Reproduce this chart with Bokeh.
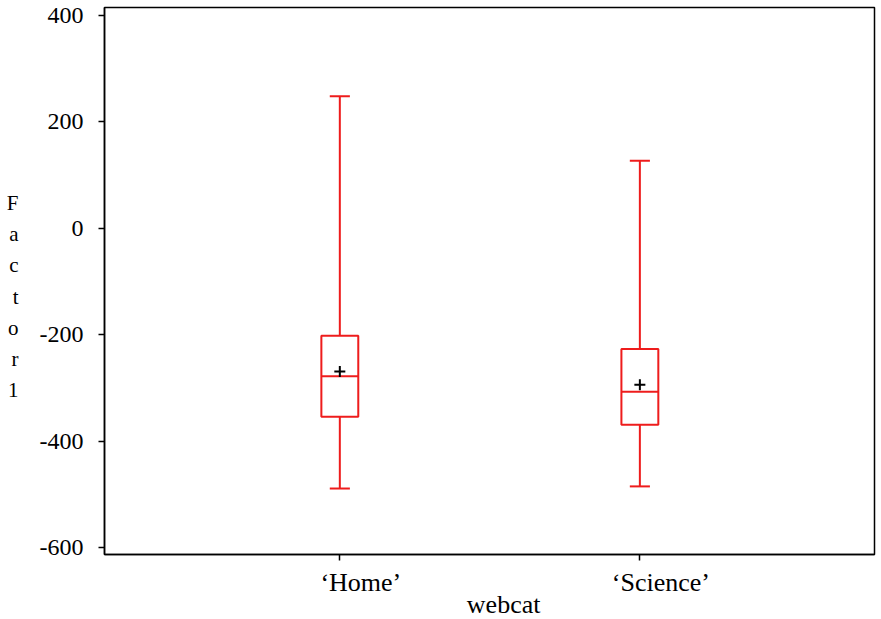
from bokeh.plotting import figure
from bokeh.models import Range1d, FixedTicker, LinearAxis
from bokeh.embed import file_html
from bokeh.resources import INLINE

categories = ["‘Home’", "‘Science’"]
positions = [1, 2]
whisker_hi = [248, 127]
q3 = [-202, -227]
median = [-278, -307]
mean = [-269, -294]
q1 = [-354, -369]
whisker_lo = [-489, -485]
y_ticks = [400, 200, 0, -200, -400, -600]
y_tick_labels = ["400", "200", "0", "-200", "-400", "-600"]
x_title = "webcat"
y_title = "Factor1"

RED = "#ee1c1c"
FONT = "Liberation Serif"

X0, X1 = 0.2157, 2.782
p = figure(frame_width=770, frame_height=547, output_backend="svg", toolbar_location=None,
           x_range=Range1d(X0, X1), y_range=Range1d(-613, 415),
           min_border_left=104, min_border_right=7, min_border_top=7, min_border_bottom=65)
p.grid.visible = False
p.background_fill_color = "white"
p.border_fill_color = "white"
p.outline_line_color = "black"
p.outline_line_width = 1.5

# boxes
bw = 0.123
cw = 0.067
p.quad(left=[x - bw / 2 for x in positions], right=[x + bw / 2 for x in positions],
       bottom=q1, top=q3, fill_color=None, line_color=RED, line_width=2)
p.segment(x0=[x - bw / 2 for x in positions], x1=[x + bw / 2 for x in positions],
          y0=median, y1=median, line_color=RED, line_width=2)
p.segment(x0=positions, x1=positions, y0=q3, y1=whisker_hi, line_color=RED, line_width=2)
p.segment(x0=positions, x1=positions, y0=q1, y1=whisker_lo, line_color=RED, line_width=2)
p.segment(x0=[x - cw / 2 for x in positions], x1=[x + cw / 2 for x in positions],
          y0=whisker_hi, y1=whisker_hi, line_color=RED, line_width=2)
p.segment(x0=[x - cw / 2 for x in positions], x1=[x + cw / 2 for x in positions],
          y0=whisker_lo, y1=whisker_lo, line_color=RED, line_width=2)
p.scatter(x=positions, y=mean, marker="cross", size=11, line_color="black", line_width=2)

# axes styling
for ax in (p.xaxis[0], p.yaxis[0]):
    ax.axis_line_color = "black"
    ax.axis_line_width = 1.5
    ax.major_tick_line_color = "black"
    ax.major_tick_line_width = 1.5
    ax.major_tick_in = 0
    ax.major_tick_out = 6
    ax.minor_tick_line_color = None
    ax.major_label_text_font = FONT
    ax.major_label_text_color = "black"
    ax.axis_label_text_font = FONT
    ax.axis_label_text_font_style = "normal"
    ax.axis_label_text_color = "black"

# bottom axis: ticks only
p.xaxis.ticker = FixedTicker(ticks=positions)
p.xaxis.major_label_text_font_size = "0px"
p.xaxis.major_label_standoff = 0
p.xaxis.major_label_overrides = {x: "" for x in positions}

# second bottom axis carrying the category labels (slightly right of the ticks, as in the original)
shift = 0.07
p.extra_x_ranges = {"lab": Range1d(X0 - shift, X1 - shift)}
lab_axis = LinearAxis(x_range_name="lab", ticker=FixedTicker(ticks=positions),
                      major_label_overrides=dict(zip(positions, categories)),
                      axis_line_color=None, major_tick_line_color=None, minor_tick_line_color=None,
                      major_tick_in=0, major_tick_out=0, major_label_standoff=7,
                      major_label_text_font=FONT, major_label_text_font_size="26px",
                      major_label_text_color="black")
p.add_layout(lab_axis, "below")

# third bottom "axis" carrying the x title at its off-centre position
title_pos = 1.546
title_axis = LinearAxis(ticker=FixedTicker(ticks=[title_pos]),
                        major_label_overrides={title_pos: x_title},
                        axis_line_color=None, major_tick_line_color=None, minor_tick_line_color=None,
                        major_tick_in=0, major_tick_out=0, major_label_standoff=-10,
                        major_label_text_font=FONT, major_label_text_font_size="26px",
                        major_label_text_color="black")
p.add_layout(title_axis, "below")

# left axis
p.yaxis.ticker = FixedTicker(ticks=y_ticks)
p.yaxis.major_label_overrides = dict(zip(y_ticks, y_tick_labels))
p.yaxis.major_label_text_font_size = "24px"
p.yaxis.major_label_standoff = 15
p.yaxis.axis_label = "\n" + "\n".join(list(y_title))
p.yaxis.axis_label_orientation = "horizontal"
p.yaxis.axis_label_text_font_size = "21px"
p.yaxis.axis_label_text_line_height = 1.3
p.yaxis.axis_label_standoff = 18

open("out.html", "w").write(file_html(p, INLINE))
